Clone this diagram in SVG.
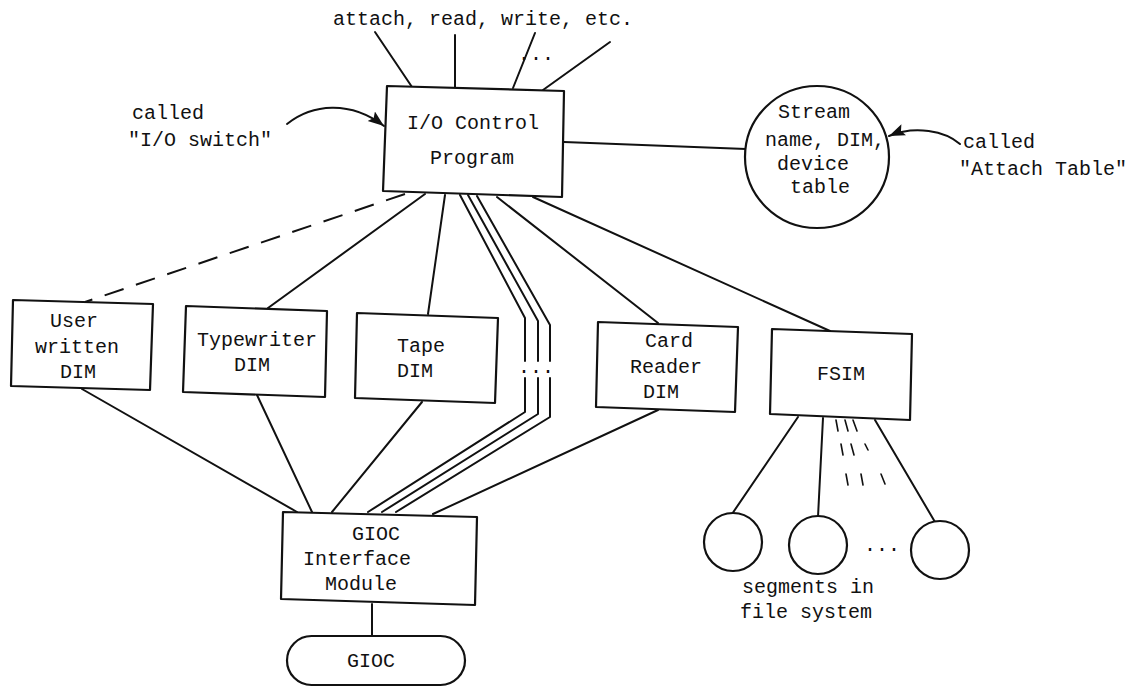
<svg xmlns="http://www.w3.org/2000/svg" width="1142" height="688" viewBox="0 0 1142 688">
<defs>
<style>
.ln{stroke:#111;stroke-width:2;fill:none;stroke-linecap:round;stroke-linejoin:round}
.dash{stroke:#111;stroke-width:2;fill:none;stroke-dasharray:20 13}
.tick{stroke:#111;stroke-width:1.6;fill:none;stroke-linecap:round}
.box{fill:#fff;stroke:#111;stroke-width:2.2;stroke-linejoin:round}
text{font-family:"Liberation Mono","Courier New",monospace;font-size:20px;fill:#111}
</style>
<marker id="ah" markerUnits="userSpaceOnUse" markerWidth="17" markerHeight="13" refX="16" refY="6" orient="auto">
<path d="M0,0 L16,6 L0,12 L3,6 z" fill="#111"/>
</marker>
</defs>
<rect width="1142" height="688" fill="#fff"/>

<g id="connectors">
<line class="ln" x1="375" y1="32" x2="412" y2="87"/>
<line class="ln" x1="455" y1="35" x2="455" y2="87"/>
<line class="ln" x1="535" y1="33" x2="513" y2="88"/>
<line class="ln" x1="610" y1="42" x2="543" y2="90"/>
<line class="ln" x1="564" y1="142" x2="746" y2="149"/>
<line class="dash" x1="405" y1="194" x2="85" y2="302"/>
<line class="ln" x1="425" y1="194" x2="268" y2="308"/>
<line class="ln" x1="445" y1="195" x2="428" y2="314"/>
<polyline class="ln" points="460,195 525,318 525,361"/>
<polyline class="ln" points="525,378 525,412 368,512"/>
<polyline class="ln" points="468,195 538,321 538,361"/>
<polyline class="ln" points="538,378 538,414 382,512"/>
<polyline class="ln" points="477,196 550,325 550,361"/>
<polyline class="ln" points="550,378 550,417 396,512"/>
<line class="ln" x1="497" y1="197" x2="658" y2="323"/>
<line class="ln" x1="533" y1="197" x2="830" y2="331"/>
<line class="ln" x1="82" y1="389" x2="297" y2="512"/>
<line class="ln" x1="257" y1="395" x2="312" y2="512"/>
<line class="ln" x1="422" y1="402" x2="332" y2="512"/>
<line class="ln" x1="658" y1="410" x2="433" y2="514"/>
<line class="ln" x1="372" y1="604" x2="372" y2="636"/>
<line class="ln" x1="798" y1="417" x2="732" y2="514"/>
<line class="ln" x1="823" y1="418" x2="818" y2="517"/>
<line class="ln" x1="875" y1="420" x2="935" y2="522"/>
<line class="tick" x1="836" y1="420" x2="838" y2="431"/>
<line class="tick" x1="845" y1="420" x2="848" y2="431"/>
<line class="tick" x1="853" y1="420" x2="857" y2="431"/>
<line class="tick" x1="841" y1="444" x2="843" y2="455"/>
<line class="tick" x1="851" y1="444" x2="854" y2="455"/>
<line class="tick" x1="865" y1="444" x2="868" y2="450"/>
<line class="tick" x1="846" y1="474" x2="848" y2="485"/>
<line class="tick" x1="861" y1="474" x2="863" y2="485"/>
<line class="tick" x1="881" y1="474" x2="885" y2="484"/>
<path class="ln" d="M287,124 C312,104 350,100 384,126" marker-end="url(#ah)"/>
<path class="ln" d="M960,144 C945,131 915,125 889,136" marker-end="url(#ah)"/>
<text x="518" y="60">...</text>
<text x="518" y="373">...</text>
<text x="864" y="551">...</text>
</g>

<g id="label-ops">
<text x="333" y="25">attach, read, write, etc.</text>
</g>
<g id="label-switch">
<text x="132" y="119">called</text>
<text x="128" y="146">"I/O switch"</text>
</g>
<g id="label-attach">
<text x="963" y="148">called</text>
<text x="959" y="175">"Attach Table"</text>
</g>

<g id="io-control">
<polygon class="box" points="387,86 564,91 562,197 383,191"/>
<text x="407" y="129">I/O Control</text>
<text x="430" y="164">Program</text>
</g>

<g id="attach-table">
<ellipse class="box" cx="817" cy="157" rx="72" ry="71"/>
<text x="778" y="118">Stream</text>
<text x="765" y="146">name, DIM,</text>
<text x="777" y="170">device</text>
<text x="790" y="193">table</text>
</g>

<g id="user-dim">
<polygon class="box" points="13,300 153,304 150,390 11,386"/>
<text x="50" y="327">User</text>
<text x="35" y="353">written</text>
<text x="60" y="378">DIM</text>
</g>

<g id="typewriter-dim">
<polygon class="box" points="186,306 327,311 325,397 183,392"/>
<text x="197" y="346">Typewriter</text>
<text x="234" y="371">DIM</text>
</g>

<g id="tape-dim">
<polygon class="box" points="357,313 498,318 495,403 355,398"/>
<text x="397" y="352">Tape</text>
<text x="397" y="377">DIM</text>
</g>

<g id="card-reader-dim">
<polygon class="box" points="598,322 738,327 735,412 596,407"/>
<text x="645" y="347">Card</text>
<text x="630" y="373">Reader</text>
<text x="643" y="398">DIM</text>
</g>

<g id="fsim">
<polygon class="box" points="772,329 912,334 910,420 770,414"/>
<text x="817" y="380">FSIM</text>
</g>

<g id="gioc-interface">
<polygon class="box" points="283,512 477,517 475,605 281,599"/>
<text x="352" y="540">GIOC</text>
<text x="303" y="565">Interface</text>
<text x="325" y="590">Module</text>
</g>

<g id="gioc">
<rect class="box" x="287" y="636" width="178" height="49" rx="24.5"/>
<text x="347" y="667">GIOC</text>
</g>

<g id="segments">
<circle class="box" cx="733" cy="542" r="29"/>
<circle class="box" cx="818" cy="545" r="29"/>
<circle class="box" cx="940" cy="550" r="29"/>
<text x="742" y="593">segments in</text>
<text x="740" y="618">file system</text>
</g>
</svg>
